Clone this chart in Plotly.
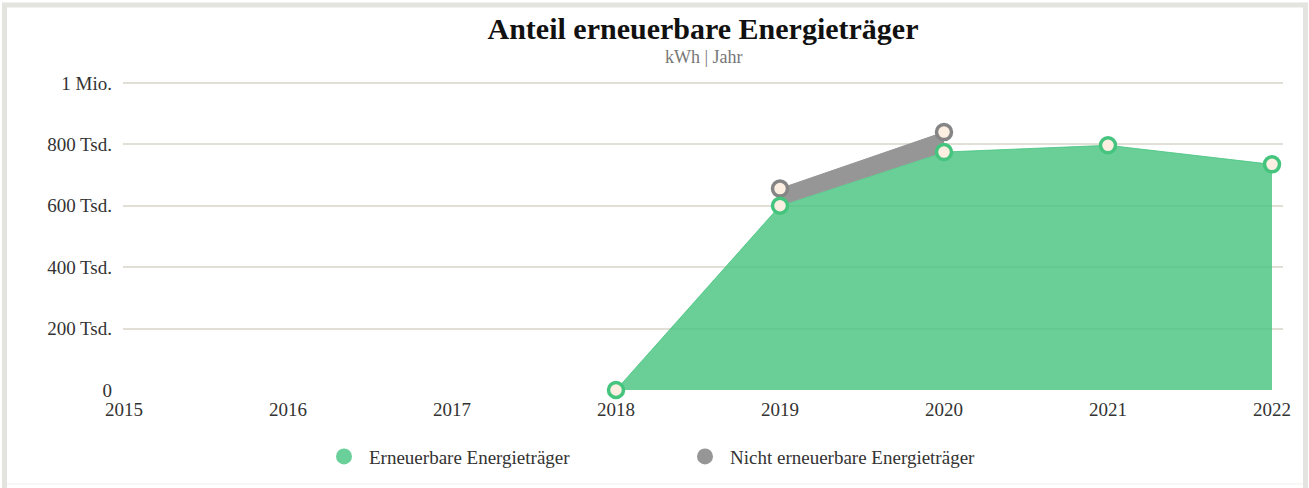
import plotly.graph_objects as go

years = [2015, 2016, 2017, 2018, 2019, 2020, 2021, 2022]
ren_years = [2018, 2019, 2020, 2021, 2022]
ren_vals = [0, 600000, 775000, 797000, 735000]
non_years = [2019, 2020]
non_vals = [56000, 65000]
ytick_vals = [0, 200000, 400000, 600000, 800000, 1000000]
ytick_text = ["0", "200 Tsd.", "400 Tsd.", "600 Tsd.", "800 Tsd.", "1 Mio."]

GREEN_FILL = "rgba(72,196,128,0.82)"
GREEN_LINE = "#45c47e"
GREY_FILL = "#969696"
GREY_LINE = "#858585"
CREAM = "#fcefe2"
FONT = "Liberation Serif"

ren_map = dict(zip(ren_years, ren_vals))
base = [ren_map[y] for y in non_years]
top = [b + v for b, v in zip(base, non_vals)]

fig = go.Figure()
fig.add_trace(go.Scatter(x=ren_years, y=ren_vals, mode="lines", fill="tozeroy",
                         fillcolor=GREEN_FILL, line=dict(color=GREEN_FILL, width=1),
                         showlegend=False, hoverinfo="skip"))
fig.add_trace(go.Scatter(x=non_years, y=base, mode="lines", line=dict(width=0, color=GREY_FILL),
                         showlegend=False, hoverinfo="skip"))
fig.add_trace(go.Scatter(x=non_years, y=top, mode="lines", fill="tonexty",
                         fillcolor=GREY_FILL, line=dict(color=GREY_FILL, width=1),
                         showlegend=False, hoverinfo="skip"))
fig.add_trace(go.Scatter(x=non_years, y=top, mode="markers", cliponaxis=False,
                         marker=dict(size=15, color=CREAM, line=dict(color=GREY_LINE, width=3.5)),
                         showlegend=False))
fig.add_trace(go.Scatter(x=ren_years, y=ren_vals, mode="markers", cliponaxis=False,
                         marker=dict(size=15, color=CREAM, line=dict(color=GREEN_LINE, width=3.5)),
                         showlegend=False))
fig.add_trace(go.Scatter(x=[None], y=[None], mode="markers", name="Erneuerbare Energieträger",
                         marker=dict(size=22, color="#6ad09a")))
fig.add_trace(go.Scatter(x=[None], y=[None], mode="markers", name="Nicht erneuerbare Energieträger",
                         marker=dict(size=22, color=GREY_FILL)))

W, H = 1309, 488
ml, mr, mt, mb = 123, 26, 81, 96
pw = W - ml - mr
ph = H - mt - mb
def px_x(p):
    return (p - ml) / pw
def px_y(p):
    return (H - mb - p) / ph

fig.add_shape(type="rect", xref="paper", yref="paper",
              x0=px_x(4.5), x1=px_x(1305.5), y0=px_y(495), y1=px_y(4.5),
              line=dict(color="#e3e3e0", width=5), fillcolor="rgba(0,0,0,0)", layer="below")
fig.add_shape(type="line", xref="paper", yref="paper",
              x0=px_x(7), x1=px_x(1303), y0=px_y(486.5), y1=px_y(486.5),
              line=dict(color="#f0f0ee", width=1), layer="below")

x_lo = 2015 - 1 / 164
x_hi = 2022 + 11 / 164
y_hi = 1000000 * (H - mb - mt) / 309

fig.update_layout(
    width=W, height=H,
    margin=dict(l=ml, r=mr, t=mt, b=mb),
    paper_bgcolor="white", plot_bgcolor="white",
    font=dict(family=FONT, size=19, color="#333333"),
    title=dict(text="<b>Anteil erneuerbare Energieträger</b>", x=0.5, xref="paper",
               xanchor="center", y=1 - 28 / H, yanchor="middle",
               font=dict(family=FONT, size=30, color="#111111")),
    annotations=[dict(text="kWh | Jahr", xref="paper", yref="paper", x=px_x(704), y=px_y(57),
                      xanchor="center", yanchor="middle", showarrow=False,
                      font=dict(family=FONT, size=18, color="#777777"))],
    showlegend=True,
    legend=dict(orientation="h", x=px_x(319), xanchor="left", y=px_y(459), yanchor="middle",
                font=dict(family=FONT, size=19, color="#333333"), itemwidth=40,
                entrywidth=306, traceorder="normal"),
    xaxis=dict(range=[x_lo, x_hi], tickmode="array", tickvals=years,
               ticktext=[str(y) for y in years], showgrid=False, zeroline=False,
               showline=False, ticks="", ticklabelstandoff=6,
               tickfont=dict(family=FONT, size=19, color="#333333")),
    yaxis=dict(range=[0, y_hi], tickmode="array", tickvals=ytick_vals, ticktext=ytick_text,
               showgrid=True, gridcolor="#e2dfd6", gridwidth=1.5, zeroline=False,
               showline=False, ticks="", ticklabelstandoff=10,
               tickfont=dict(family=FONT, size=19, color="#333333")),
)

fig.write_html("out.html", config={"displayModeBar": False},
               post_script="document.body.style.margin='0';")
